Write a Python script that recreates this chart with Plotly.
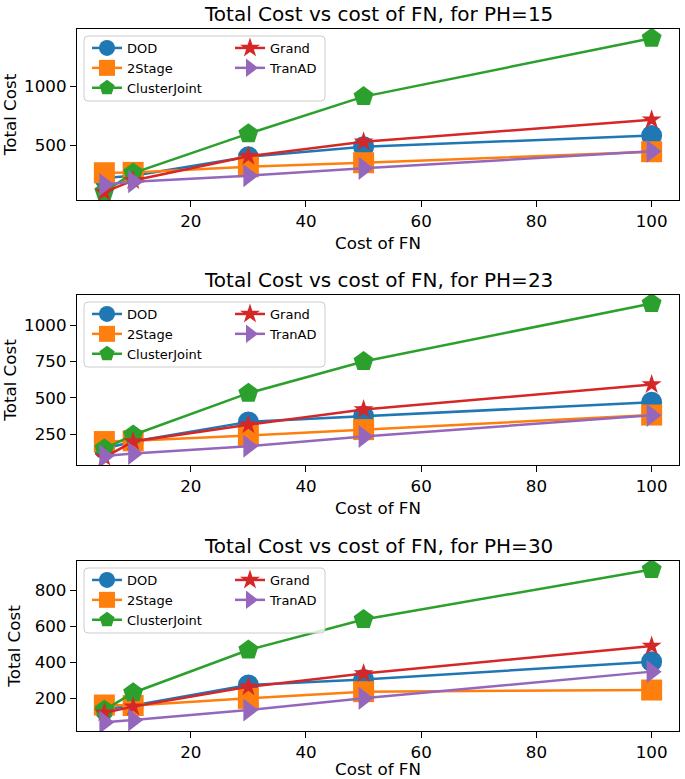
import plotly.graph_objects as go

# ---------------- data ----------------
cost_fn = [5, 10, 30, 50, 100]
ph_values = [15, 23, 30]
methods = ["DOD", "2Stage", "ClusterJoint", "Grand", "TranAD"]

# PH = 15
dod_15 = [220, 240, 400, 485, 580]
stage2_15 = [265, 268, 316, 350, 443]
cluster_15 = [105, 262, 596, 910, 1405]
grand_15 = [100, 200, 405, 528, 715]
tranad_15 = [165, 189, 240, 302, 447]

# PH = 23
dod_23 = [150, 200, 335, 375, 470]
stage2_23 = [200, 205, 242, 282, 382]
cluster_23 = [150, 245, 532, 750, 1148]
grand_23 = [92, 200, 316, 420, 592]
tranad_23 = [100, 118, 168, 235, 380]

# PH = 30
dod_30 = [140, 160, 274, 305, 403]
stage2_30 = [163, 160, 200, 237, 246]
cluster_30 = [135, 231, 468, 637, 914]
grand_30 = [120, 154, 264, 338, 490]
tranad_30 = [68, 80, 135, 200, 348]

y_ranges = [[34, 1483], [39, 1206], [19, 961]]
y_dticks = [500, 250, 200]

series = [
    [dod_15, stage2_15, cluster_15, grand_15, tranad_15],
    [dod_23, stage2_23, cluster_23, grand_23, tranad_23],
    [dod_30, stage2_30, cluster_30, grand_30, tranad_30],
]

colors = ["#1f77b4", "#ff7f0e", "#2ca02c", "#d62728", "#9467bd"]
symbols = ["circle", "square", "pentagon", "star", "triangle-right"]
sizes = [21, 21, 21, 15, 20]

# ---------------- layout geometry (px) ----------------
W, H = 685, 779
L, R = 77, 679
T_ax = [29, 295, 561]
B_ax = [200, 465, 731]
plot_h = 731 - 29
plot_w = R - L


def py2paper(py):
    return (731 - py) / plot_h


def px2paper(px):
    return (px - L) / plot_w


fig = go.Figure()
FONT = "DejaVu Sans"

for i in range(3):
    ax = "" if i == 0 else str(i + 1)
    for j, name in enumerate(methods):
        k = 2 * i + (0 if j < 3 else 1)
        col_legend = "legend" + ("" if k == 0 else str(k + 1))
        fig.add_trace(go.Scatter(
            x=cost_fn, y=series[i][j], name=name,
            mode="lines+markers",
            line=dict(color=colors[j], width=2.5),
            marker=dict(symbol=symbols[j], size=sizes[j], color=colors[j], line=dict(width=0)),
            xaxis="x" + ax, yaxis="y" + ax,
            legend=col_legend,
            showlegend=True,
            cliponaxis=True,
            hoverinfo="skip",
        ))

layout = dict(
    width=W, height=H,
    margin=dict(l=L, r=W - R, t=29, b=H - 731, autoexpand=False),
    paper_bgcolor="white", plot_bgcolor="white",
    font=dict(family=FONT, size=16.7, color="black"),
    showlegend=True,
    annotations=[], shapes=[],
)

for i in range(3):
    ax = "" if i == 0 else str(i + 1)
    dom = [py2paper(B_ax[i]), py2paper(T_ax[i])]
    layout["xaxis" + ax] = dict(
        domain=[0, 1], anchor="y" + ax, range=[0.25, 104.75], automargin=False,
        tick0=0, dtick=20, ticks="outside", ticklen=6, tickwidth=1.3, tickcolor="black",
        showline=True, linecolor="black", linewidth=1.3, mirror=True,
        showgrid=False, zeroline=False,
        tickfont=dict(size=16.7), ticklabelstandoff=0,
        title=dict(text="Cost of FN", font=dict(size=16.7), standoff=7),
    )
    layout["yaxis" + ax] = dict(
        domain=dom, anchor="x" + ax, range=y_ranges[i], automargin=False,
        tick0=0, dtick=y_dticks[i], ticks="outside", ticklen=6, tickwidth=1.3, tickcolor="black",
        showline=True, linecolor="black", linewidth=1.3, mirror=True,
        showgrid=False, zeroline=False,
        tickfont=dict(size=16.7), ticklabelstandoff=0,
        title=dict(text="Total Cost", font=dict(size=16.7), standoff=9),
    )
    layout["annotations"].append(dict(
        text=f"Total Cost vs cost of FN, for PH={ph_values[i]}",
        xref="x" + ax + " domain", yref="y" + ax + " domain",
        x=0.5, y=1, xanchor="center", yanchor="bottom", yshift=1,
        showarrow=False, font=dict(size=20, color="black"),
    ))
    # legend frame
    x0, x1 = 7 / plot_w, 248 / plot_w
    h_ax = B_ax[i] - T_ax[i]
    y1, y0 = 1 - 7 / h_ax, 1 - 72 / h_ax
    rx, ry = 4 / plot_w, 4 / h_ax
    path = (f"M {x0+rx},{y0} L {x1-rx},{y0} Q {x1},{y0} {x1},{y0+ry} "
            f"L {x1},{y1-ry} Q {x1},{y1} {x1-rx},{y1} L {x0+rx},{y1} "
            f"Q {x0},{y1} {x0},{y1-ry} L {x0},{y0+ry} Q {x0},{y0} {x0+rx},{y0} Z")
    layout["shapes"].append(dict(
        type="path", path=path, xref="x" + ax + " domain", yref="y" + ax + " domain",
        fillcolor="rgba(255,255,255,0.8)", line=dict(color="#cccccc", width=1), layer="above",
    ))
    # two legend columns
    for c, left_px in enumerate([87, 230]):
        k = 2 * i + c
        key = "legend" + ("" if k == 0 else str(k + 1))
        layout[key] = dict(
            x=px2paper(left_px), y=py2paper(T_ax[i] + 4), xanchor="left", yanchor="top",
            bgcolor="rgba(0,0,0,0)", borderwidth=0, font=dict(size=13, color="black"),
            tracegroupgap=0, itemsizing="trace",
        )

fig.update_layout(**layout)
fig.write_html("out.html", config={"displayModeBar": False},
               post_script="document.body.style.margin='0px';")
